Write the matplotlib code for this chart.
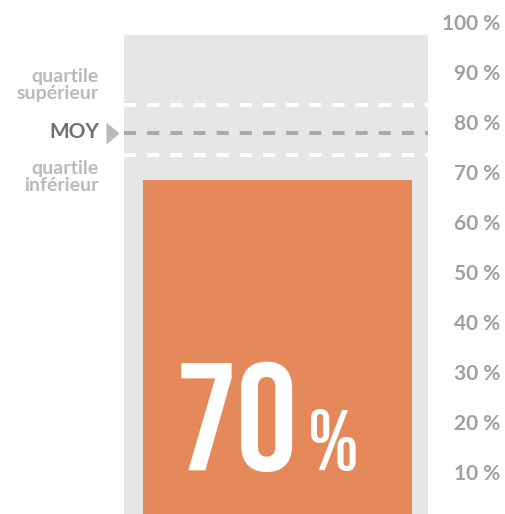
import matplotlib
matplotlib.use("Agg")
import matplotlib.pyplot as plt
import numpy as np

# data
score = 70            # bar value (%)
upper_quartile = 85
mean_value = 79.5
lower_quartile = 75
scale_top = 99        # grey background band
tick_values = [10, 20, 30, 40, 50, 60, 70, 80, 90, 100]
tick_labels = [f"{v} %" for v in tick_values]

ORANGE = "#e5895a"
BAND = "#e5e6e8"
TICK_GREY = "#a0a0a2"
LABEL_GREY = "#bababc"
MEAN_GREY = "#6f7072"
DASH_GREY = "#a9aaac"
SMALL_FONT = "Lato"
BIG_FONT = "Bebas Neue"

W, H = 505, 514
fig = plt.figure(figsize=(W / 100, H / 100), dpi=100)
ax = fig.add_axes([124 / W, 0, 304 / W, (514 - 30) / H])
ax.set_xlim(-0.5, 0.5)
ax.set_ylim(3.2, 100)

ax.bar(0, scale_top, width=1.0, color=BAND, zorder=1)
ax.bar(0.005, score, width=0.885, color=ORANGE, zorder=2)

dash = (0, (3, 2.75))
for yv, c in [(upper_quartile, "white"), (mean_value, DASH_GREY), (lower_quartile, "white")]:
    ax.axhline(yv, color=c, lw=2.9, ls=dash, zorder=3)

# big value label
ax.text(0.072, 12, f"{score}", color="white", fontsize=110,
        family=BIG_FONT, ha="right", va="baseline", zorder=4)
ax.text(0.105, 12, "%", color="white", fontsize=62,
        family=BIG_FONT, ha="left", va="baseline", zorder=4)

# left-hand annotations
tr = ax.get_yaxis_transform()
lab_x = -0.082
ax.text(lab_x, upper_quartile + 4, "quartile\nsupérieur", transform=tr, ha="right",
        va="center", fontsize=14, fontweight="bold", family=SMALL_FONT, color=LABEL_GREY,
        linespacing=1.05)
ax.text(lab_x, mean_value, "MOY", transform=tr, ha="right", va="center",
        fontsize=15, fontweight="bold", family=SMALL_FONT, color=MEAN_GREY)
ax.text(lab_x, lower_quartile - 4.4, "quartile\ninférieur", transform=tr, ha="right",
        va="center", fontsize=14, fontweight="bold", family=SMALL_FONT, color=LABEL_GREY,
        linespacing=1.05)
ax.plot([-0.04], [mean_value], transform=tr, marker=[(-0.6, -1), (0.6, 0), (-0.6, 1)],
        markersize=14.4, color="#b9babb", clip_on=False, ls="none")

# right-hand scale
ax.yaxis.tick_right()
ax.set_yticks(tick_values)
ax.set_yticklabels(tick_labels)
ax.tick_params(axis="y", length=0, pad=52)
for t in ax.get_yticklabels():
    t.set_ha("right")
    t.set_va("baseline")
    t.set_fontsize(15)
    t.set_fontweight("bold")
    t.set_family(SMALL_FONT)
    t.set_color(TICK_GREY)
ax.set_xticks([])
for s in ax.spines.values():
    s.set_visible(False)
ax.patch.set_alpha(0)

fig.savefig("out.png", dpi=100)
